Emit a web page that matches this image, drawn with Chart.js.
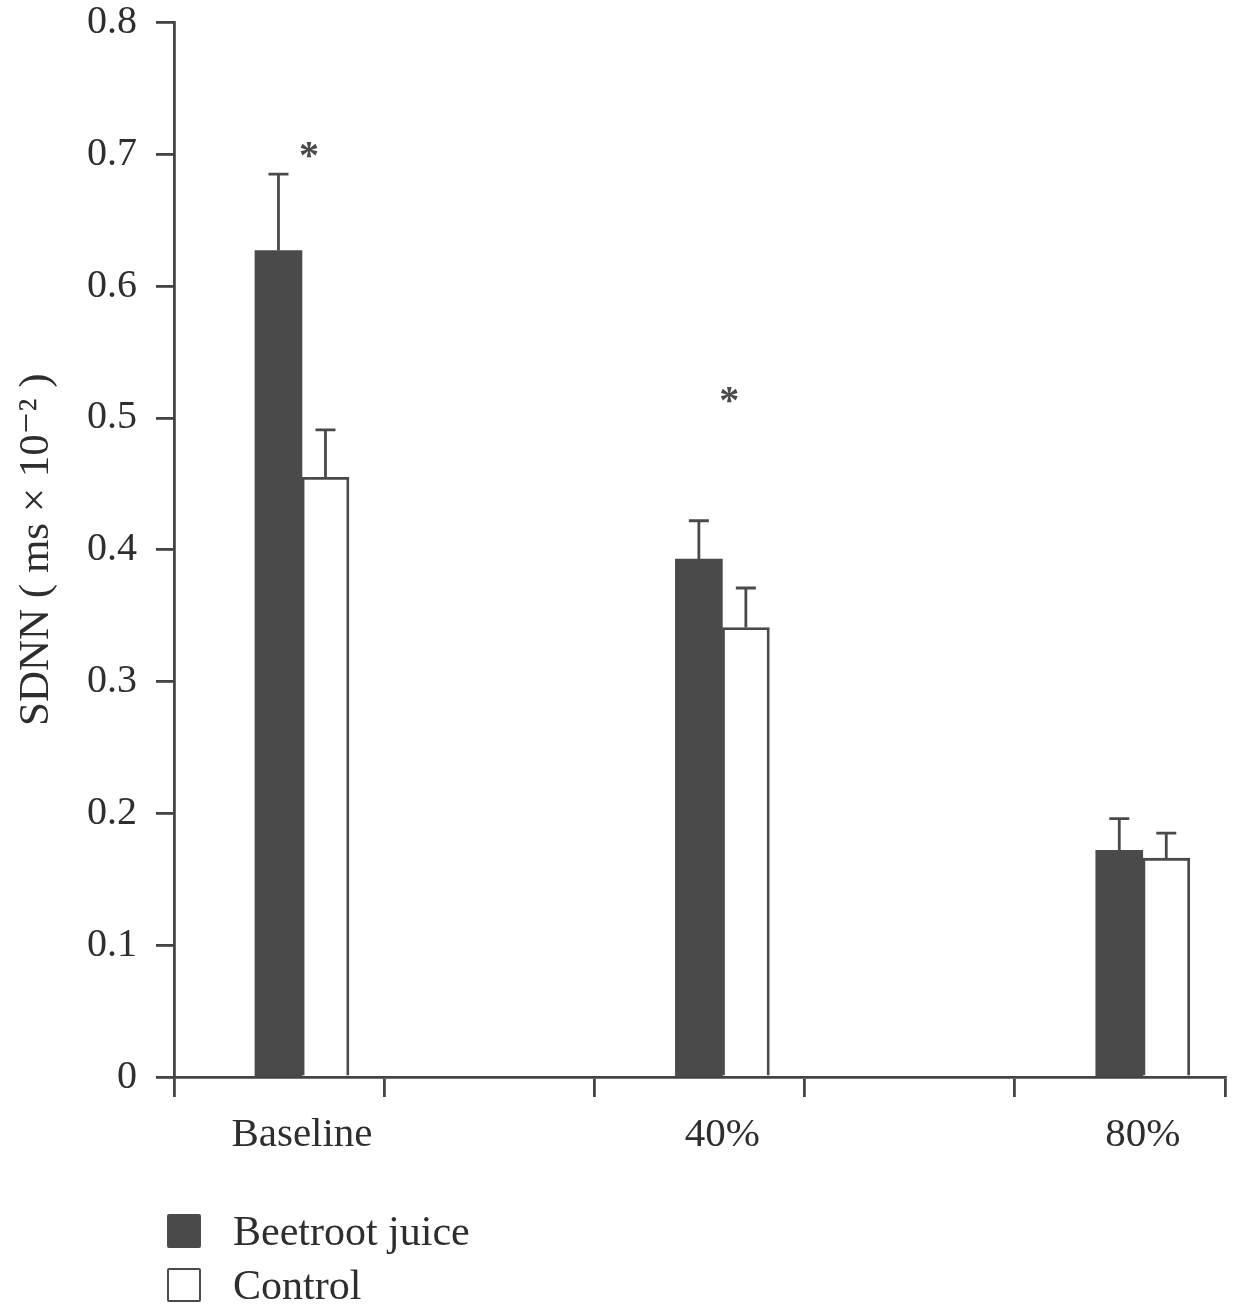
<!DOCTYPE html>
<html>
<head>
<meta charset="utf-8">
<script src="https://cdn.jsdelivr.net/npm/chart.js@4.4.1/dist/chart.umd.min.js"></script>
<style>
  html, body { margin: 0; padding: 0; background: #ffffff; }
  #wrap { position: relative; width: 1233px; height: 1304px; overflow: hidden; }
  #c { position: absolute; left: 0; top: 0; }
  .leg { position: absolute; left: 167px; height: 44px; display: flex; align-items: center;
         font-family: "Liberation Serif", "DejaVu Serif", serif; font-size: 42px; color: #2e2e2e; line-height: 44px; white-space: nowrap; }
  .leg .box { width: 34px; height: 34px; box-sizing: border-box; margin-right: 32px; border-radius: 2px; }
</style>
</head>
<body>
<div id="wrap">
  <canvas id="c" width="1233" height="1304"></canvas>
  <div id="legend"></div>
</div>
<script>
// ---- data ----
const categories = ["Baseline", "40%", "80%"];
const seriesNames = ["Beetroot juice", "Control"];
const beetrootMeans = [0.627, 0.393, 0.172];
const beetrootErrors = [0.058, 0.029, 0.024];
const controlMeans = [0.455, 0.341, 0.166];
const controlErrors = [0.036, 0.030, 0.019];
const significanceY = [0.704, 0.518, null];   // asterisk heights
const yTicks = [0, 0.1, 0.2, 0.3, 0.4, 0.5, 0.6, 0.7, 0.8];
const yTitle = "SDNN ( ms \u00d7 10\u207b\u00b2 )";

const DARK = "#4a4a4a";
const AXIS = "#444444";
const TEXT = "#2e2e2e";
const SERIF = '"Liberation Serif", "DejaVu Serif", serif';

const errorBars = {
  id: "errorBars",
  afterDatasetsDraw(chart) {
    const ctx = chart.ctx;
    const yScale = chart.scales.y;
    ctx.save();
    ctx.strokeStyle = DARK;
    ctx.lineWidth = 2.8;
    chart.data.datasets.forEach((ds, di) => {
      const meta = chart.getDatasetMeta(di);
      meta.data.forEach((bar, i) => {
        const top = yScale.getPixelForValue(ds.data[i].y + ds.errors[i]);
        ctx.beginPath();
        ctx.moveTo(bar.x, bar.y);
        ctx.lineTo(bar.x, top);
        ctx.moveTo(bar.x - 10, top);
        ctx.lineTo(bar.x + 10, top);
        ctx.stroke();
      });
    });
    // significance asterisks
    const xScale = chart.scales.x;
    ctx.fillStyle = DARK;
    ctx.font = "bold 40px " + SERIF;
    ctx.textAlign = "center";
    ctx.textBaseline = "alphabetic";
    significanceY.forEach((v, i) => {
      if (v === null) return;
      const px = xScale.getPixelForValue(i) + 7;
      const py = yScale.getPixelForValue(v);
      ctx.fillText("*", px, py + 19);
    });
    ctx.restore();
  }
};

const chart = new Chart(document.getElementById("c"), {
  type: "bar",
  data: {
    datasets: [
      {
        label: seriesNames[0],
        data: beetrootMeans.map((v, i) => ({ x: i, y: v })),
        errors: beetrootErrors,
        backgroundColor: DARK,
        borderColor: DARK,
        borderWidth: 0,
        barThickness: 47,
        xAxisID: "x"
      },
      {
        label: seriesNames[1],
        data: controlMeans.map((v, i) => ({ x: i, y: v })),
        errors: controlErrors,
        backgroundColor: "#ffffff",
        borderColor: DARK,
        borderWidth: 2.8,
        barThickness: 47,
        xAxisID: "x"
      }
    ]
  },
  options: {
    responsive: false,
    animation: false,
    devicePixelRatio: 1,
    layout: { padding: { left: 0, right: 8, top: 0, bottom: 137 } },
    plugins: {
      legend: { display: false },
      tooltip: { enabled: false }
    },
    scales: {
      x: {
        type: "linear",
        position: "bottom",
        min: -0.3044,
        max: 2.1956,
        offset: false,
        afterBuildTicks(scale) {
          const t = [];
          for (let k = 0; k <= 5; k++) t.push({ value: scale.min + 0.5 * k });
          scale.ticks = t;
        },
        afterFit(scale) { scale.height = 20; },
        ticks: { display: false },
        grid: { display: true, offset: false, drawOnChartArea: false, drawTicks: true, tickLength: 20, color: AXIS, lineWidth: 2.8 },
        border: { display: true, color: AXIS, width: 2.8 }
      },
      xl: {
        type: "linear",
        position: "bottom",
        min: -0.3044,
        max: 2.1956,
        offset: false,
        afterBuildTicks(scale) {
          scale.ticks = categories.map((c, i) => ({ value: i }));
        },
        afterFit(scale) { scale.height = 70; },
        ticks: {
          padding: 6,
          maxRotation: 0,
          autoSkip: false,
          color: TEXT,
          font: { family: SERIF, size: 41 },
          callback: (v) => categories[v]
        },
        grid: { display: false, offset: false },
        border: { display: false }
      },
      y: {
        type: "linear",
        min: 0,
        max: 0.8,
        afterBuildTicks(scale) {
          scale.ticks = yTicks.map(v => ({ value: v }));
        },
        afterFit(scale) {
          scale.width = 174;
          scale.paddingTop = 22.5;
          scale.paddingBottom = 0;
        },
        ticks: {
          padding: 19,
          color: TEXT,
          font: { family: SERIF, size: 40 },
          callback: (v) => String(Math.round(v * 10) / 10)
        },
        grid: { display: true, drawOnChartArea: false, drawTicks: true, tickLength: 18, color: AXIS, lineWidth: 2.8 },
        border: { display: true, color: AXIS, width: 2.8 },
        title: {
          display: true,
          text: yTitle,
          color: TEXT,
          font: { family: SERIF, size: 43 },
          padding: { top: 11, bottom: 0 }
        }
      }
    }
  },
  plugins: [errorBars]
});

// HTML legend built from the chart's datasets
const legendTops = [1209, 1263];
const legend = document.getElementById("legend");
chart.data.datasets.forEach((ds, i) => {
  const row = document.createElement("div");
  row.className = "leg";
  row.style.top = legendTops[i] + "px";
  const box = document.createElement("span");
  box.className = "box";
  box.style.background = ds.backgroundColor;
  box.style.border = "2.8px solid " + ds.borderColor;
  const txt = document.createElement("span");
  txt.textContent = ds.label;
  row.appendChild(box);
  row.appendChild(txt);
  legend.appendChild(row);
});
</script>
</body>
</html>
